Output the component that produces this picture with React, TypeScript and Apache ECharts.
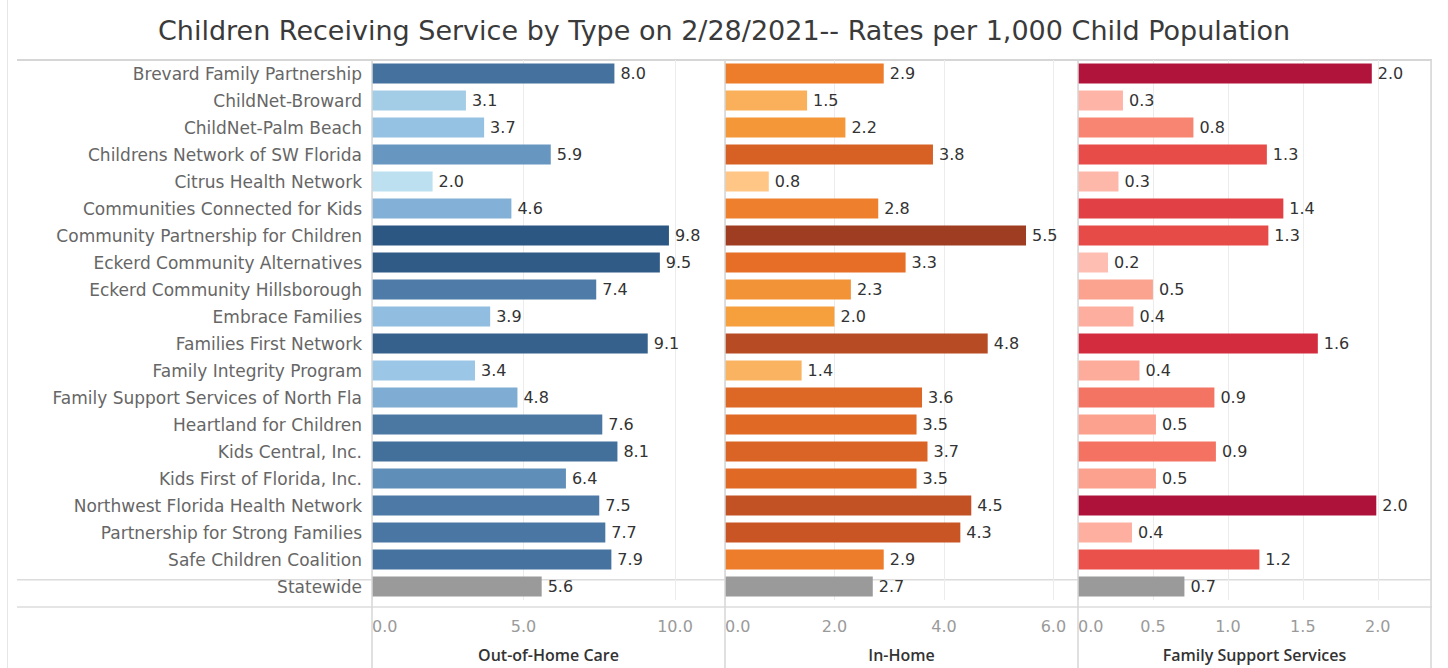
import React, { useEffect, useRef } from "react";
import * as echarts from "echarts";

const titleText =
  "Children Receiving Service by Type on 2/28/2021-- Rates per 1,000 Child Population";

const organizations = [
  "Brevard Family Partnership",
  "ChildNet-Broward",
  "ChildNet-Palm Beach",
  "Childrens Network of SW Florida",
  "Citrus Health Network",
  "Communities Connected for Kids",
  "Community Partnership for Children",
  "Eckerd Community Alternatives",
  "Eckerd Community Hillsborough",
  "Embrace Families",
  "Families First Network",
  "Family Integrity Program",
  "Family Support Services of North Fla",
  "Heartland for Children",
  "Kids Central, Inc.",
  "Kids First of Florida, Inc.",
  "Northwest Florida Health Network",
  "Partnership for Strong Families",
  "Safe Children Coalition",
];
const statewideLabel = "Statewide";

const panelTitles = ["Out-of-Home Care", "In-Home", "Family Support Services"];

const outOfHome = [8.0, 3.1, 3.7, 5.9, 2.0, 4.6, 9.8, 9.5, 7.4, 3.9, 9.1, 3.4, 4.8, 7.6, 8.1, 6.4, 7.5, 7.7, 7.9];
const inHome = [2.9, 1.5, 2.2, 3.8, 0.8, 2.8, 5.5, 3.3, 2.3, 2.0, 4.8, 1.4, 3.6, 3.5, 3.7, 3.5, 4.5, 4.3, 2.9];
const familySupport = [1.96, 0.3, 0.77, 1.26, 0.27, 1.37, 1.27, 0.2, 0.5, 0.37, 1.6, 0.41, 0.91, 0.52, 0.92, 0.52, 1.99, 0.36, 1.21];
const statewide = [5.6, 2.7, 0.71];

const axisMax = [11.65, 6.45, 2.355];
const axisInterval = [5, 2, 0.5];

const palettes = [
  ["#bce0f0", "#8fbce0", "#6797c1", "#46739f", "#2c5782"],
  ["#ffc685", "#f6a03e", "#ea7226", "#c85424", "#9e3d22"],
  ["#ffbeb2", "#fb9580", "#ef5c4e", "#d9303f", "#ae123a"],
];

const FONT = "DejaVu Sans";

export default function App() {
  const ref = useRef<HTMLDivElement>(null);

  useEffect(() => {
    if (!ref.current) return;
    const chart = echarts.init(ref.current, undefined, { renderer: "svg" });
    const categories = [...organizations, statewideLabel];
    const panels = [outOfHome, inHome, familySupport];

    const gridLeft = 372;
    const gridW = 353;
    const gridTop = 60;
    const gridH = 547;

    const grids = panels.map((_, i) => ({
      left: gridLeft + i * gridW,
      top: gridTop,
      width: gridW,
      height: gridH,
      containLabel: false,
    }));

    const xAxes = panels.map((_, i) => ({
      type: "value",
      gridIndex: i,
      min: 0,
      max: axisMax[i],
      interval: axisInterval[i],
      axisLine: { show: false },
      axisTick: { show: false },
      splitLine: { show: true, lineStyle: { color: "#ececec", width: 1 } },
      axisLabel: {
        show: true,
        showMaxLabel: false,
        alignMinLabel: "left",
        margin: 18,
        color: "#9a9a9a",
        fontSize: 16,
        fontFamily: FONT,
        formatter: (v: number) => v.toFixed(1),
      },
      name: panelTitles[i],
      nameLocation: "middle",
      nameGap: 47,
      nameTextStyle: { color: "#333", fontSize: 16, fontWeight: 600, fontFamily: "Open Sans" },
    }));

    const yAxes = panels.map((_, i) => ({
      type: "category",
      gridIndex: i,
      data: categories,
      inverse: true,
      axisLine: { show: false },
      axisTick: { show: false },
      splitLine: { show: false },
      axisLabel: {
        show: i === 0,
        margin: 10,
        color: "#666666",
        fontSize: 17,
        fontFamily: FONT,
      },
    }));

    const labelCfg = {
      show: true,
      position: "right",
      distance: 6,
      color: "#333",
      fontSize: 16,
      fontFamily: FONT,
      formatter: (p: any) => (Math.round(p.value[0] * 10) / 10).toFixed(1),
    };

    const series: any[] = [];
    panels.forEach((vals, i) => {
      series.push({
        type: "bar",
        xAxisIndex: i,
        yAxisIndex: i,
        barWidth: 20,
        barGap: "-100%",
        data: vals.map((v, k) => [v, organizations[k]]),
        label: labelCfg,
      });
      series.push({
        type: "bar",
        xAxisIndex: i,
        yAxisIndex: i,
        barWidth: 20,
        barGap: "-100%",
        data: [[statewide[i], statewideLabel]],
        itemStyle: { color: "#9a9a9a" },
        label: labelCfg,
      });
    });

    const visualMaps = panels.map((vals, i) => ({
      type: "continuous",
      show: false,
      seriesIndex: [i * 2],
      dimension: 0,
      min: Math.min(...vals),
      max: Math.max(...vals),
      inRange: { color: palettes[i] },
    }));

    const lineColor = "#d6d6d6";
    const rowH = gridH / categories.length;
    const sepY1 = gridTop + rowH * organizations.length;
    const sepY2 = gridTop + gridH;
    const graphics: any[] = [
      { type: "line", shape: { x1: 7.5, y1: 0, x2: 7.5, y2: 668 }, style: { stroke: "#e6e6e6", lineWidth: 1 } },
      { type: "line", shape: { x1: 17, y1: gridTop, x2: 1432, y2: gridTop }, style: { stroke: "#c8c8c8", lineWidth: 1.5 } },
      { type: "line", shape: { x1: 17, y1: sepY1, x2: 1432, y2: sepY1 }, style: { stroke: "#dcdcdc", lineWidth: 1.5 } },
      { type: "line", shape: { x1: 17, y1: sepY2, x2: 1432, y2: sepY2 }, style: { stroke: "#dcdcdc", lineWidth: 1.5 } },
    ];
    [0, 1, 2, 3].forEach((k) => {
      const x = gridLeft + k * gridW;
      graphics.push({
        type: "line",
        shape: { x1: x, y1: gridTop, x2: x, y2: 668 },
        style: { stroke: lineColor, lineWidth: 1.5 },
        z: 10,
      });
    });

    chart.setOption({
      animation: false,
      backgroundColor: "#ffffff",
      textStyle: { fontFamily: FONT },
      title: {
        text: titleText,
        left: "center",
        top: 12,
        textStyle: { color: "#3a3a3a", fontSize: 27, fontWeight: "normal", fontFamily: FONT },
      },
      grid: grids,
      xAxis: xAxes,
      yAxis: yAxes,
      visualMap: visualMaps,
      series,
      graphic: graphics,
    });

    return () => chart.dispose();
  }, []);

  return (
    <div
      ref={ref}
      style={{ position: "fixed", left: 0, top: 0, width: 1448, height: 668, background: "#fff" }}
    />
  );
}
